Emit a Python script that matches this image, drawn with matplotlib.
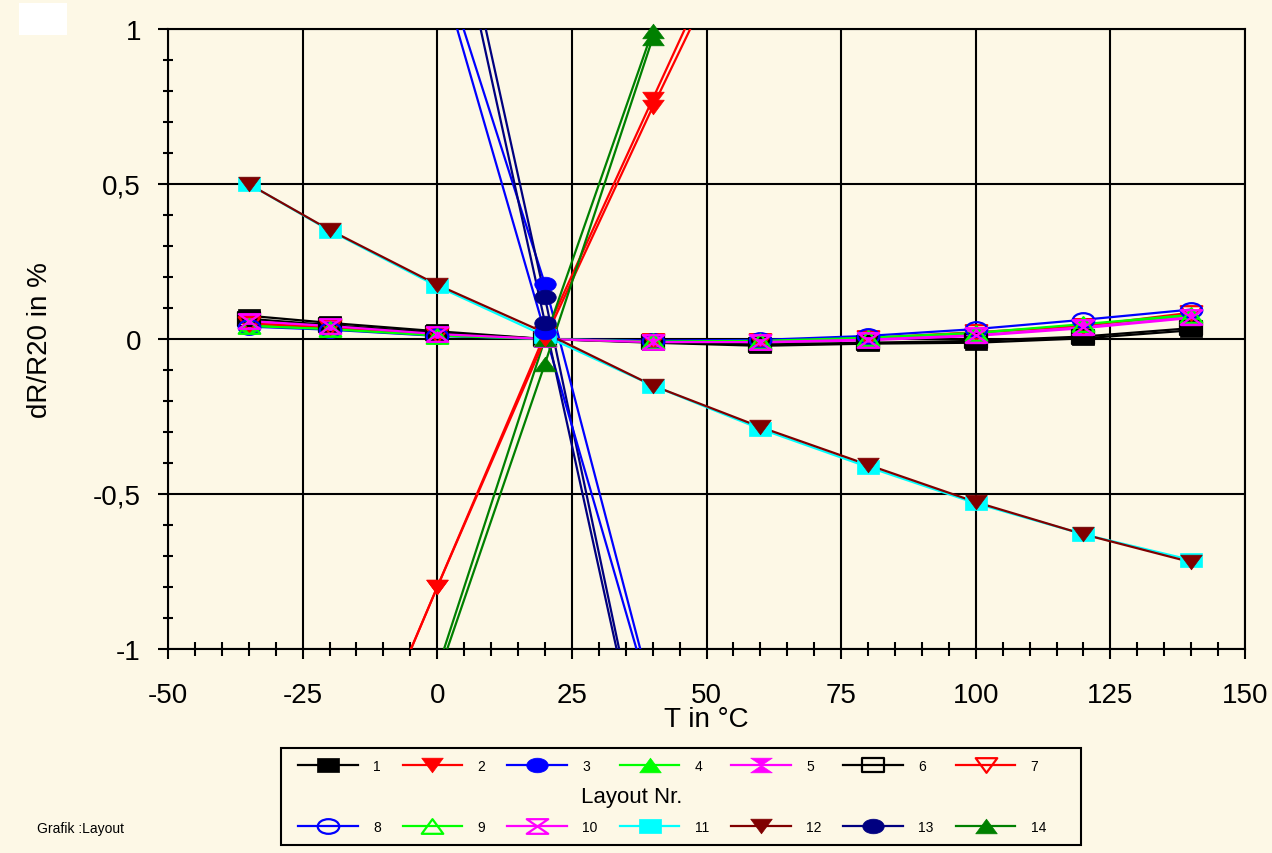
import numpy as np
import matplotlib
matplotlib.use("Agg")
import matplotlib.pyplot as plt
from matplotlib.path import Path
from matplotlib.transforms import Affine2D
from matplotlib.lines import Line2D
from matplotlib.patches import Rectangle
from matplotlib.ticker import MultipleLocator, FixedLocator, FixedFormatter

plt.rcParams['font.family'] = ['Liberation Sans', 'DejaVu Sans']

nan = np.nan
# ---------------- data ----------------
temps = [-35, -20, 0, 20, 40, 60, 80, 100, 120, 140]

layout_1 = [0.075, 0.052, 0.025, 0.0, -0.012, -0.022, -0.015, -0.012, 0.002, 0.028]
layout_2 = [nan, -1.62, -0.80, 0.015, 0.774, 1.53, nan, nan, nan, nan]
layout_3 = [nan, nan, 1.266, 0.177, -1.153, nan, nan, nan, nan, nan]
layout_4 = [0.045, 0.035, 0.012, 0.0, -0.008, -0.008, 0.002, 0.018, 0.045, 0.075]
layout_5 = [0.055, 0.040, 0.015, 0.0, -0.010, -0.012, -0.004, 0.010, 0.035, 0.068]
layout_6 = [0.065, 0.045, 0.020, 0.0, -0.010, -0.018, -0.012, -0.006, 0.008, 0.035]
layout_7 = [0.050, 0.038, 0.014, 0.0, -0.008, -0.008, 0.003, 0.022, 0.042, 0.085]
layout_8 = [0.040, 0.030, 0.010, 0.0, -0.005, -0.003, 0.010, 0.032, 0.062, 0.095]
layout_9 = [0.042, 0.032, 0.011, 0.0, -0.008, -0.006, 0.004, 0.020, 0.048, 0.078]
layout_10 = [0.058, 0.042, 0.016, 0.0, -0.010, -0.010, -0.002, 0.012, 0.038, 0.070]
layout_11 = [0.50, 0.35, 0.17, 0.01, -0.15, -0.29, -0.413, -0.53, -0.63, -0.713]
layout_12 = [0.50, 0.352, 0.175, 0.02, -0.15, -0.284, -0.406, -0.526, -0.63, -0.72]
layout_13 = [nan, nan, 1.71, 0.134, -1.512, nan, nan, nan, nan, nan]
layout_14 = [nan, nan, -1.067, 0.0, 0.995, 1.95, nan, nan, nan, nan]
# further curves drawn without legend entry
extra_red = [nan, -1.62, -0.80, 0.0, 0.748, 1.47, nan, nan, nan, nan]
extra_blue = [nan, nan, 1.222, 0.021, -1.18, nan, nan, nan, nan, nan]
extra_navy = [nan, nan, 1.638, 0.053, -1.53, nan, nan, nan, nan, nan]
extra_green = [nan, nan, -1.094, -0.08, 0.97, 1.95, nan, nan, nan, nan]

legend_labels = [str(i) for i in range(1, 15)]
x_tick_labels = ['-50', '-25', '0', '25', '50', '75', '100', '125', '150']
y_tick_labels = ['-1', '-0,5', '0', '0,5', '1']

# ---------------- marker shapes ----------------
A = 0.68
MOVE, LINE, CLOSE = Path.MOVETO, Path.LINETO, Path.CLOSEPOLY
square = Path([(-1, -A), (1, -A), (1, A), (-1, A), (-1, -A)], [MOVE, LINE, LINE, LINE, CLOSE])
tri_down = Path([(-1, A), (1, A), (0, -A), (-1, A)], [MOVE, LINE, LINE, CLOSE])
tri_up = Path([(-1, -A), (1, -A), (0, A), (-1, -A)], [MOVE, LINE, LINE, CLOSE])
ellipse = Affine2D().scale(1, A).transform_path(Path.unit_circle())
hourglass = Path([(-1, A), (1, A), (-1, -A), (1, -A), (-1, A)], [MOVE, LINE, LINE, LINE, CLOSE])

# (values, colour, marker, filled)
series = [
    (layout_1, '#000000', square, True),
    (layout_2, '#FF0000', tri_down, True),
    (layout_3, '#0000FF', ellipse, True),
    (layout_4, '#00FF00', tri_up, True),
    (layout_5, '#FF00FF', hourglass, True),
    (layout_6, '#000000', square, False),
    (layout_7, '#FF0000', tri_down, False),
    (layout_8, '#0000FF', ellipse, False),
    (layout_9, '#00FF00', tri_up, False),
    (layout_10, '#FF00FF', hourglass, False),
    (layout_11, '#00FFFF', square, True),
    (layout_12, '#800000', tri_down, True),
    (layout_13, '#000080', ellipse, True),
    (layout_14, '#008000', tri_up, True),
]
extras = [
    (extra_red, '#FF0000', tri_down, True),
    (extra_blue, '#0000FF', ellipse, True),
    (extra_navy, '#000080', ellipse, True),
    (extra_green, '#008000', tri_up, True),
]

BG = '#FDF8E6'
MS = 15.5
LW = 1.6

fig = plt.figure(figsize=(12.72, 8.54), dpi=100, facecolor=BG)
ax = fig.add_axes([168 / 1272, 1 - 650 / 854, (1245 - 168) / 1272, 620 / 854])
ax.set_facecolor(BG)


def marker_kw(color, marker, filled):
    if filled:
        return dict(marker=marker, markersize=MS, markerfacecolor=color,
                    markeredgecolor=color, markeredgewidth=0.5)
    return dict(marker=marker, markersize=MS, markerfacecolor='none',
                markeredgecolor=color, markeredgewidth=1.6)


handles = []
for vals, color, marker, filled in series + extras:
    v = np.array(vals, dtype=float)
    ax.plot(temps, v, color=color, lw=LW, zorder=3)
    vm = np.where(np.abs(v) <= 1.0, v, np.nan)
    ax.plot(temps, vm, linestyle='none', clip_on=False, zorder=4,
            **marker_kw(color, marker, filled))

for vals, color, marker, filled in series:
    handles.append(Line2D([], [], color=color, lw=LW, **marker_kw(color, marker, filled)))

ax.set_xlim(-50, 150)
ax.set_ylim(-1, 1)

ax.xaxis.set_major_locator(FixedLocator([-50, -25, 0, 25, 50, 75, 100, 125, 150]))
ax.xaxis.set_major_formatter(FixedFormatter(x_tick_labels))
ax.xaxis.set_minor_locator(MultipleLocator(5))
ax.yaxis.set_major_locator(FixedLocator([-1, -0.5, 0, 0.5, 1]))
ax.yaxis.set_major_formatter(FixedFormatter(y_tick_labels))
ax.yaxis.set_minor_locator(MultipleLocator(0.1))

ax.grid(True, which='major', color='black', lw=1.5, zorder=1)
ax.set_axisbelow(True)
for s in ax.spines.values():
    s.set_linewidth(1.5)
    s.set_color('black')

ax.tick_params(axis='both', which='major', direction='out', length=7.5, width=1.5,
               labelsize=20, color='black')
ax.tick_params(axis='x', which='major', pad=16)
ax.tick_params(axis='y', which='major', pad=12)
ax.tick_params(axis='x', which='minor', direction='inout', length=10, width=1.5)
ax.tick_params(axis='y', which='minor', direction='inout', length=7.5, width=1.5)

ax.set_xlabel('T in °C', fontsize=20, va='center')
ax.xaxis.set_label_coords(0.5, (650 - 720) / 620)
ax.set_ylabel('dR/R20 in %', fontsize=20, va='center', ha='center')
ax.yaxis.set_label_coords((40 - 168) / 1077, 0.5)

# legend: two rows (1-7 above, 8-14 below), title between the rows
order = []
for c in range(7):
    order += [c, c + 7]
leg = fig.legend([handles[i] for i in order], [legend_labels[i] for i in order],
                 loc='center', bbox_to_anchor=(672 / 1272, 1 - 797.5 / 854),
                 ncol=7, frameon=False, fontsize=10, handlelength=4.3,
                 handletextpad=1.1, columnspacing=1.58, labelspacing=3.4,
                 borderpad=0, borderaxespad=0)
fig.add_artist(Rectangle((281 / 1272, 1 - 846 / 854), 800 / 1272, 97 / 854,
                         transform=fig.transFigure, fill=False, ec='black', lw=1.5))
fig.text(632 / 1272, 1 - 798 / 854, 'Layout Nr.', ha='center', va='center', fontsize=16)
fig.text(37 / 1272, 1 - 829 / 854, 'Grafik :Layout', ha='left', va='center', fontsize=10)
fig.add_artist(Rectangle((19 / 1272, 1 - 36 / 854), 48 / 1272, 32 / 854,
                         transform=fig.transFigure, color='white', lw=0))

fig.savefig('out.png', dpi=100, facecolor=BG)
